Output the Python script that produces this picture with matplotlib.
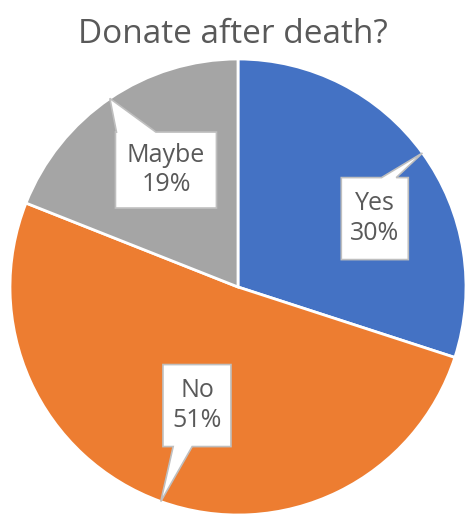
import numpy as np
import matplotlib.pyplot as plt
from matplotlib.patches import Polygon

labels = ['Yes', 'No', 'Maybe']
values = [30, 51, 19]
colors = ['#4472C4', '#ED7D31', '#A5A5A5']
title = 'Donate after death?'

# layout: figure px, pie centre/radius in px, boxes in radius units / px
W, H = 466, 517
cx, cy, R = 238, 287, 228
box_xy = [(0.60, 0.30), (-0.18, -0.52), (-0.316, 0.513)]
box_wh = [(67, 82), (68, 82), (101, 76)]
tail = [('top', 0.60, 0.82), ('bottom', 0.15, 0.43), ('top', 0.01, 0.40)]

plt.rcParams['font.family'] = ['Open Sans', 'DejaVu Sans']
fig = plt.figure(figsize=(W / 100, H / 100), dpi=100)
ax = fig.add_axes([0, 0, 1, 1])
wedges, _ = ax.pie(values, colors=colors, startangle=90, counterclock=False,
                   wedgeprops=dict(edgecolor='white', linewidth=2))
ax.set_xlim(-cx / R, (W - cx) / R)
ax.set_ylim(-(H - cy) / R, cy / R)
ax.axis('off')

total = sum(values)
for w, lab, v, (bx, by), (bw, bh), (side, f1, f2) in zip(wedges, labels, values, box_xy, box_wh, tail):
    bw, bh = bw / R, bh / R
    mid = np.deg2rad((w.theta1 + w.theta2) / 2)
    tip = (np.cos(mid), np.sin(mid))
    x0, x1 = bx - bw / 2, bx + bw / 2
    y0, y1 = by - bh / 2, by + bh / 2
    if side == 'top':
        pts = [(x0, y1), (x0 + f1 * bw, y1), tip, (x0 + f2 * bw, y1), (x1, y1), (x1, y0), (x0, y0)]
    else:
        pts = [(x0, y1), (x1, y1), (x1, y0), (x0 + f2 * bw, y0), tip, (x0 + f1 * bw, y0), (x0, y0)]
    ax.add_patch(Polygon(pts, closed=True, facecolor='white', edgecolor='#BFBFBF', lw=1.2, zorder=3))
    ax.text(bx, by, f"{lab}\n{v / total * 100:.0f}%", ha='center', va='center',
            fontsize=18, color='#595959', linespacing=1.25, zorder=4)

fig.text(233 / W, 1 - 43 / H, title, ha='center', va='baseline', fontsize=24, color='#595959')
fig.savefig('out.png', dpi=100)
